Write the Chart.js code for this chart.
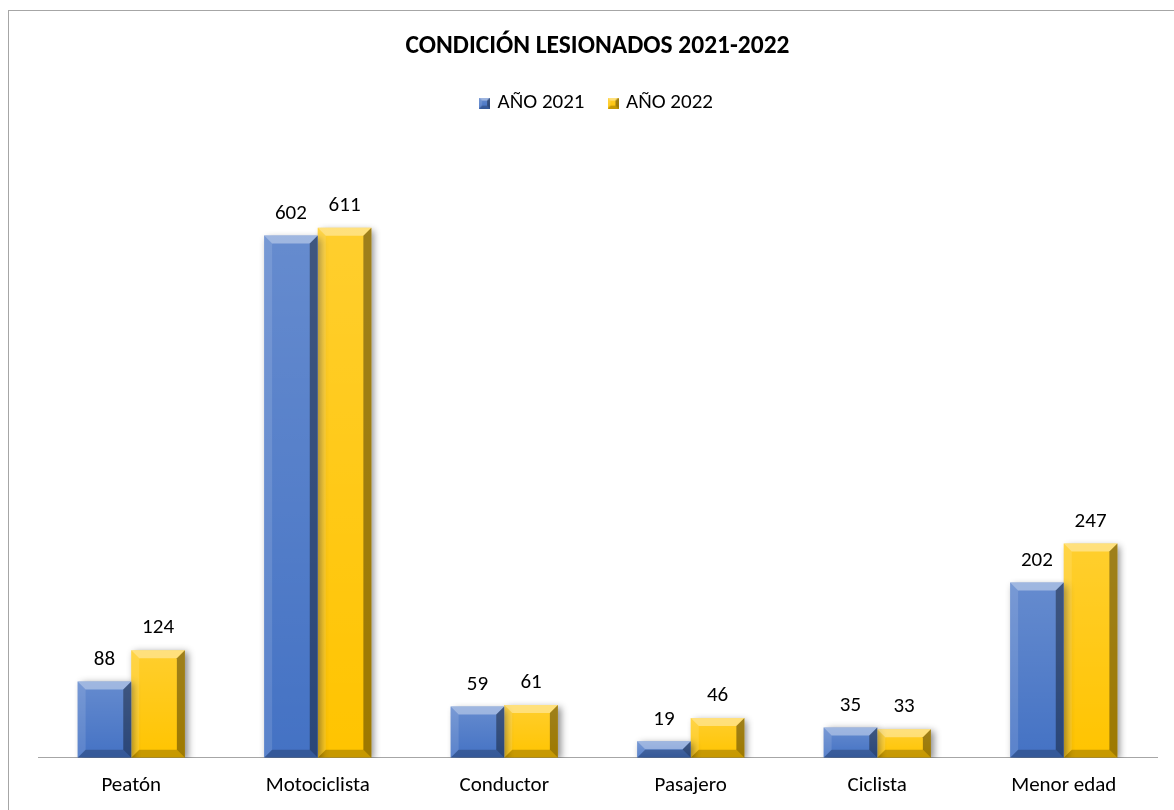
<!DOCTYPE html>
<html>
<head>
<meta charset="utf-8">
<script src="https://cdn.jsdelivr.net/npm/chart.js@4.4.1/dist/chart.umd.min.js"></script>
<style>
  html, body { margin: 0; padding: 0; background: #fff; overflow: hidden; }
  #marco { position: absolute; left: 8px; top: 10px; width: 1400px; height: 1000px; border: 1px solid #a6a6a6; }
  #wrap { position: absolute; left: 0; top: 0; width: 1174px; height: 810px; }
</style>
</head>
<body>
<div id="marco"></div>
<div id="wrap"><canvas id="lesionadosChart"></canvas></div>
<script>
// Condición de lesionados 2021-2022

const categorias = ['Peatón', 'Motociclista', 'Conductor', 'Pasajero', 'Ciclista', 'Menor edad'];
const valores2021 = [88, 602, 59, 19, 35, 202];
const valores2022 = [124, 611, 61, 46, 33, 247];
const nombresSeries = ['AÑO 2021', 'AÑO 2022'];
const colores = ['#4472c4', '#ffc400'];

const fuente = "Carlito, Lato, 'Open Sans', sans-serif";

// dibuja un polígono relleno
function poligono(ctx, pts, color) {
  ctx.beginPath();
  ctx.moveTo(pts[0][0], pts[0][1]);
  for (let i = 1; i < pts.length; i++) ctx.lineTo(pts[i][0], pts[i][1]);
  ctx.closePath();
  ctx.fillStyle = color;
  ctx.fill();
}

// biselado de un rectángulo
function biselar(ctx, l, t, r, b, d) {
  const g = ctx.createLinearGradient(0, t, 0, b);
  g.addColorStop(0, 'rgba(255,255,255,0.18)');
  g.addColorStop(1, 'rgba(255,255,255,0)');
  ctx.fillStyle = g;
  ctx.fillRect(l, t, r - l, b - t);
  poligono(ctx, [[l, t], [r, t], [r - d, t + d], [l + d, t + d]], 'rgba(255,255,255,0.38)');
  poligono(ctx, [[l, t], [l + d, t + d], [l + d, b - d], [l, b]], 'rgba(255,255,255,0.12)');
  poligono(ctx, [[r, t], [r, b], [r - d, b - d], [r - d, t + d]], 'rgba(0,0,0,0.38)');
  poligono(ctx, [[l, b], [l + d, b - d], [r - d, b - d], [r, b]], 'rgba(0,0,0,0.22)');
}

// icono de la leyenda
function icono(color) {
  const c = document.createElement('canvas');
  c.width = 11; c.height = 11;
  const x = c.getContext('2d');
  x.fillStyle = color;
  x.fillRect(0, 0, 11, 11);
  biselar(x, 0, 0, 11, 11, 3);
  return c;
}

const pluginBisel = {
  id: 'bisel',
  beforeDatasetsDraw(chart) {
    const ctx = chart.ctx;
    ctx.save();
    ctx.shadowColor = 'rgba(0,0,0,0.45)';
    ctx.shadowBlur = 7;
    ctx.shadowOffsetX = 3;
    ctx.shadowOffsetY = 2;
  },
  afterDatasetsDraw(chart) {
    const ctx = chart.ctx;
    ctx.restore();
    ctx.save();
    chart.data.datasets.forEach((ds, i) => {
      chart.getDatasetMeta(i).data.forEach((bar, j) => {
        const p = bar.getProps(['x', 'y', 'base', 'width'], true);
        const l = p.x - p.width / 2, r = p.x + p.width / 2;
        const d = Math.min(8, (p.base - p.y) / 2, p.width / 2);
        biselar(ctx, l, p.y, r, p.base, d);
        // etiqueta de valor
        ctx.fillStyle = '#000';
        ctx.font = '21px ' + fuente;
        ctx.textAlign = 'center';
        ctx.textBaseline = 'middle';
        ctx.fillText(String(ds.data[j]), p.x, p.y - 22);
      });
    });
    ctx.restore();
  }
};

const ctxLesionados = document.getElementById('lesionadosChart').getContext('2d');
const graficoLesionados = new Chart(ctxLesionados, {
  type: 'bar',
  data: {
    labels: categorias,
    datasets: [
      { label: nombresSeries[0], data: valores2021, backgroundColor: colores[0], pointStyle: icono(colores[0]) },
      { label: nombresSeries[1], data: valores2022, backgroundColor: colores[1], pointStyle: icono(colores[1]) }
    ]
  },
  options: {
    responsive: true,
    maintainAspectRatio: false,
    animation: false,
    layout: { padding: { left: 38, right: 17, top: 0, bottom: -3 } },
    datasets: { bar: { barPercentage: 1, categoryPercentage: 0.575 } },
    scales: {
      x: {
        grid: { display: false, drawTicks: false },
        border: { color: '#a6a6a6', width: 1 },
        ticks: { color: '#000', font: { family: fuente, size: 21 }, padding: 15 }
      },
      y: { display: false, min: 0, max: 731 }
    },
    plugins: {
      title: {
        display: true,
        text: 'CONDICIÓN LESIONADOS 2021-2022',
        color: '#000',
        font: { family: fuente, size: 25.5, weight: 'bold' },
        padding: { top: 31, bottom: 5 }
      },
      legend: {
        display: true,
        labels: {
          color: '#000',
          font: { family: fuente, size: 21 },
          usePointStyle: true,
          boxWidth: 5,
          boxHeight: 11,
          padding: 26,
          generateLabels(chart) {
            const items = Chart.defaults.plugins.legend.labels.generateLabels(chart);
            items.forEach((it, k) => { it.pointStyle = chart.data.datasets[k].pointStyle; });
            return items;
          }
        }
      },
      tooltip: { enabled: false }
    }
  },
  plugins: [pluginBisel]
});
</script>
</body>
</html>
